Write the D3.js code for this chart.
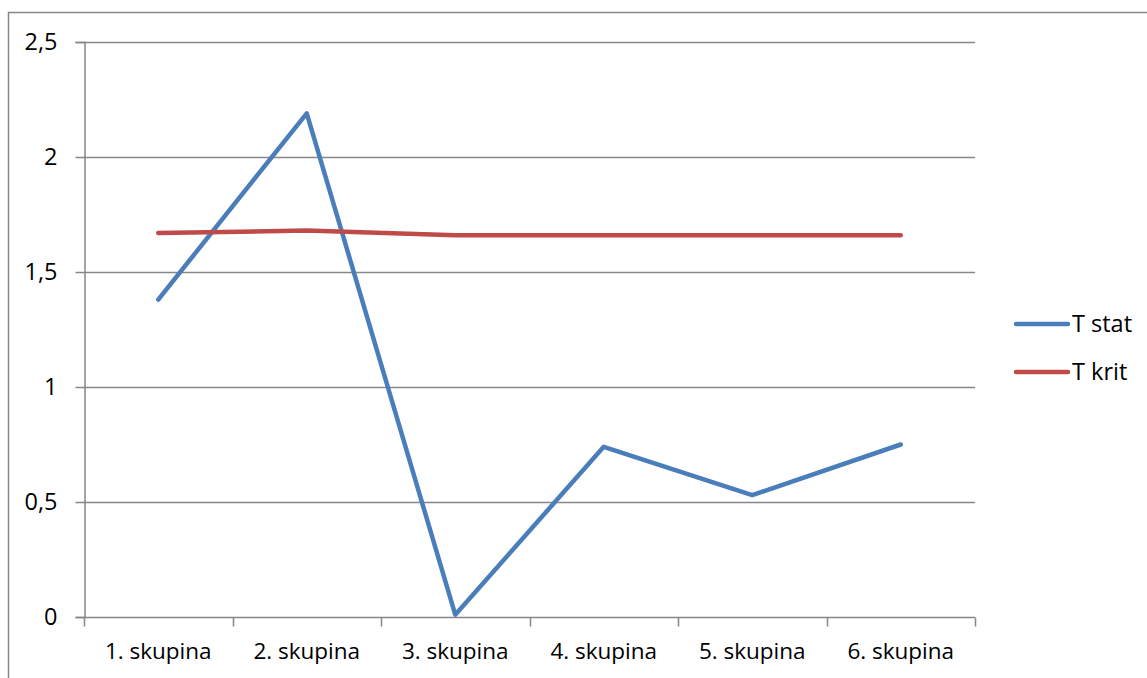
<!DOCTYPE html>
<html>
<head>
<meta charset="utf-8">
<script src="https://cdn.jsdelivr.net/npm/d3@7"></script>
<style>
  html, body { margin: 0; padding: 0; background: #fff; }
  svg { display: block; }
  text { font-family: "Open Sans", "Noto Sans", sans-serif; fill: #000; }
</style>
</head>
<body>
<svg id="chart" width="1147" height="678"></svg>
<script>
const categories = ["1. skupina", "2. skupina", "3. skupina", "4. skupina", "5. skupina", "6. skupina"];
const tStat = [1.38, 2.19, 0.01, 0.74, 0.53, 0.75];
const tKrit = [1.67, 1.68, 1.66, 1.66, 1.66, 1.66];
const yTicks = [0, 0.5, 1, 1.5, 2, 2.5];
const seriesNames = ["T stat", "T krit"];
const seriesColors = ["#4A7EBB", "#BE4B48"];

const LABEL_SIZE = 22.5;
const VALUE_SIZE = 23.5;
const svg = d3.select("#chart");
const plot = { left: 84, right: 975, top: 42, bottom: 617 };

// outer chart frame
svg.append("rect")
  .attr("x", 8.5).attr("y", 12.5)
  .attr("width", 1160).attr("height", 700)
  .attr("fill", "none").attr("stroke", "#868686").attr("stroke-width", 1.5);

const x = d3.scaleBand().domain(categories).range([plot.left, plot.right]).padding(0);
const y = d3.scaleLinear().domain([0, 2.5]).range([plot.bottom, plot.top]);
const fmt = d => String(d).replace(".", ",");

// horizontal gridlines
svg.append("g")
  .selectAll("line").data(yTicks.filter(d => d > 0)).join("line")
  .attr("x1", plot.left).attr("x2", plot.right)
  .attr("y1", d => Math.round(y(d)) + 0.5).attr("y2", d => Math.round(y(d)) + 0.5)
  .attr("stroke", "#878787").attr("stroke-width", 1.5);

// y axis
const yAxis = svg.append("g")
  .attr("transform", `translate(${plot.left + 0.5},0)`)
  .call(d3.axisLeft(y).tickValues(yTicks).tickFormat(fmt).tickSize(9).tickPadding(18));
yAxis.select(".domain").attr("stroke", "#878787").attr("stroke-width", 1.5);
yAxis.selectAll(".tick line").attr("stroke", "#878787").attr("stroke-width", 1.5);
yAxis.selectAll(".tick text")
  .attr("font-size", VALUE_SIZE)
  .attr("font-family", "'Open Sans', sans-serif")
  .attr("dy", "0.3em");

// x axis with ticks on band edges
const xAxisG = svg.append("g").attr("transform", `translate(0,${plot.bottom + 0.5})`);
xAxisG.append("line")
  .attr("x1", plot.left).attr("x2", plot.right)
  .attr("stroke", "#878787").attr("stroke-width", 1.5);
const edges = categories.map(c => x(c)).concat([x(categories[categories.length - 1]) + x.bandwidth()]);
xAxisG.selectAll("line.edge").data(edges).join("line").attr("class", "edge")
  .attr("x1", d => Math.round(d) + 0.5).attr("x2", d => Math.round(d) + 0.5)
  .attr("y1", 0).attr("y2", 9)
  .attr("stroke", "#878787").attr("stroke-width", 1.5);
xAxisG.selectAll("text").data(categories).join("text")
  .attr("x", d => x(d) + x.bandwidth() / 2)
  .attr("y", 41)
  .attr("text-anchor", "middle")
  .attr("font-size", LABEL_SIZE)
  .text(d => d);

// series lines
const line = d3.line()
  .x((d, i) => x(categories[i]) + x.bandwidth() / 2)
  .y(d => y(d));

[tStat, tKrit].forEach((vals, i) => {
  svg.append("path")
    .datum(vals)
    .attr("d", line)
    .attr("fill", "none")
    .attr("stroke", seriesColors[i])
    .attr("stroke-width", 4.5)
    .attr("stroke-linecap", "round")
    .attr("stroke-linejoin", "round");
});

// legend
const legend = svg.append("g");
seriesNames.forEach((name, i) => {
  const ly = 324 + i * 48;
  legend.append("line")
    .attr("x1", 1016).attr("x2", 1068)
    .attr("y1", ly).attr("y2", ly)
    .attr("stroke", seriesColors[i]).attr("stroke-width", 4.5)
    .attr("stroke-linecap", "round");
  legend.append("text")
    .attr("x", 1072).attr("y", ly + 8)
    .attr("font-size", VALUE_SIZE)
    .text(name);
});
</script>
</body>
</html>
